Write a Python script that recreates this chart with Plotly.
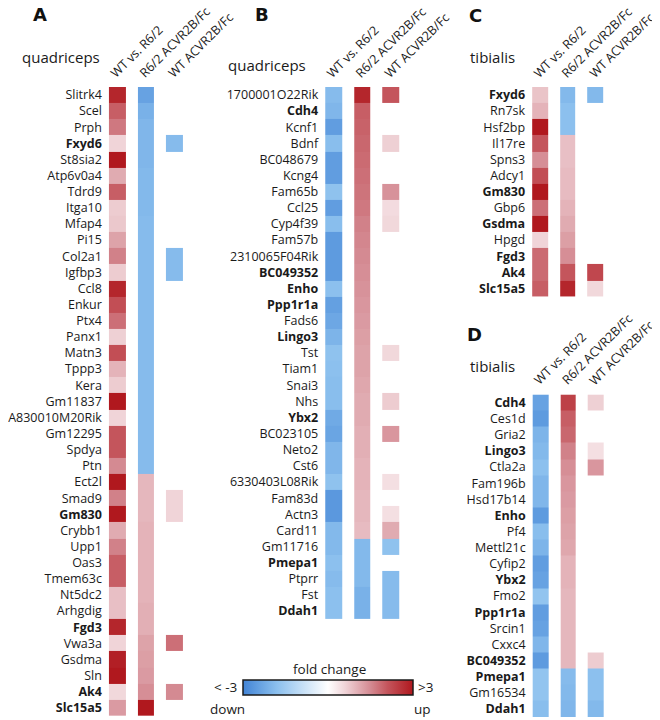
import plotly.graph_objects as go

# the page body has an 8px margin, so the figure is drawn 8px smaller and every
# pixel position below is given in window coordinates
W, H = 660, 720
OFF = 8
FONT = "Open Sans, sans-serif"

headers = ["WT vs. R6/2", "R6/2 ACVR2B/Fc", "WT ACVR2B/Fc"]

# Panel A - quadriceps
a_genes = ["Slitrk4", "Scel", "Prph", "Fxyd6", "St8sia2", "Atp6v0a4", "Tdrd9", "Itga10",
           "Mfap4", "Pi15", "Col2a1", "Igfbp3", "Ccl8", "Enkur", "Ptx4", "Panx1", "Matn3",
           "Tppp3", "Kera", "Gm11837", "A830010M20Rik", "Gm12295", "Spdya", "Ptn", "Ect2l",
           "Smad9", "Gm830", "Crybb1", "Upp1", "Oas3", "Tmem63c", "Nt5dc2", "Arhgdig",
           "Fgd3", "Vwa3a", "Gsdma", "Sln", "Ak4", "Slc15a5"]
a_bold = ["Fxyd6", "Gm830", "Fgd3", "Ak4", "Slc15a5"]
a_wt_r62 = [2.8, 2.0, 1.7, 0.6, 3.0, 1.1, 2.0, 0.7, 0.75, 1.2, 1.6, 0.7, 2.8, 2.2, 1.8,
            0.65, 2.2, 1.0, 0.7, 3.0, 0.6, 2.1, 2.1, 1.5, 3.0, 1.6, 3.0, 1.1, 1.6, 2.0,
            2.0, 0.85, 0.85, 2.8, 0.6, 2.9, 3.0, 0.55, 1.3]
a_r62_acv = [-2.4, -2.1, -2.0, -2.0, -2.0, -1.95, -1.95, -1.95, -1.9, -1.9, -1.9, -1.9,
             -1.9, -1.9, -1.9, -1.9, -1.9, -1.9, -1.9, -1.9, -1.9, -1.9, -1.9, -1.9,
             0.95, 0.95, 0.95, 1.0, 1.0, 1.0, 1.0, 1.0, 1.05, 1.05, 1.2, 1.25, 1.3, 1.45, 3.0]
a_wt_acv = [None, None, None, -1.9, None, None, None, None, None, None, -1.9, -1.9,
            None, None, None, None, None, None, None, None, None, None, None, None,
            None, 0.6, 0.6, None, None, None, None, None, None, None, 1.8, None, None, 1.5, None]

# Panel B - quadriceps
b_genes = ["1700001O22Rik", "Cdh4", "Kcnf1", "Bdnf", "BC048679", "Kcng4", "Fam65b", "Ccl25",
           "Cyp4f39", "Fam57b", "2310065F04Rik", "BC049352", "Enho", "Ppp1r1a", "Fads6",
           "Lingo3", "Tst", "Tiam1", "Snai3", "Nhs", "Ybx2", "BC023105", "Neto2", "Cst6",
           "6330403L08Rik", "Fam83d", "Actn3", "Card11", "Gm11716", "Pmepa1", "Ptprr",
           "Fst", "Ddah1"]
b_bold = ["Cdh4", "BC049352", "Enho", "Ppp1r1a", "Lingo3", "Ybx2", "Pmepa1", "Ddah1"]
b_wt_r62 = [-1.9, -2.0, -2.5, -1.85, -2.5, -2.5, -1.75, -2.5, -1.85, -2.55, -2.55, -2.55,
            -1.8, -2.45, -2.3, -2.05, -1.75, -1.8, -1.85, -1.85, -2.25, -2.35, -2.0, -2.0,
            -1.75, -2.6, -2.6, -1.95, -1.95, -1.8, -1.9, -1.8, -1.8]
b_r62_acv = [2.8, 2.0, 1.95, 1.9, 1.85, 1.8, 1.75, 1.7, 1.6, 1.55, 1.5, 1.45, 1.4, 1.35,
             1.3, 1.25, 1.2, 1.2, 1.15, 1.1, 1.1, 1.05, 1.05, 1.0, 1.0, 0.95, 0.95, 0.9,
             -1.95, -1.95, -1.95, -2.1, -2.1]
b_wt_acv = [2.1, None, None, 0.65, None, None, 1.4, 0.5, 0.55, None, None, None, None,
            None, None, None, 0.55, None, None, 0.7, None, 1.35, None, None, 0.45, None,
            0.45, 1.1, -1.75, None, -1.9, -1.9, -1.9]

# Panel C - tibialis
c_genes = ["Fxyd6", "Rn7sk", "Hsf2bp", "Il17re", "Spns3", "Adcy1", "Gm830", "Gbp6",
           "Gsdma", "Hpgd", "Fgd3", "Ak4", "Slc15a5"]
c_bold = ["Fxyd6", "Gm830", "Gsdma", "Fgd3", "Ak4", "Slc15a5"]
c_wt_r62 = [0.8, 1.0, 3.0, 2.1, 1.45, 2.2, 3.0, 1.8, 3.0, 0.6, 1.85, 1.85, 2.0]
c_r62_acv = [-1.95, -1.8, -1.8, 0.85, 0.85, 0.9, 0.9, 1.0, 1.1, 1.25, 1.45, 2.1, 2.8]
c_wt_acv = [-1.95, None, None, None, None, None, None, None, None, None, None, 2.3, 0.55]

# Panel D - tibialis
d_genes = ["Cdh4", "Ces1d", "Gria2", "Lingo3", "Ctla2a", "Fam196b", "Hsd17b14", "Enho",
           "Pf4", "Mettl21c", "Cyfip2", "Ybx2", "Fmo2", "Ppp1r1a", "Srcin1", "Cxxc4",
           "BC049352", "Pmepa1", "Gm16534", "Ddah1"]
d_bold = ["Cdh4", "Lingo3", "Enho", "Ybx2", "Ppp1r1a", "BC049352", "Pmepa1", "Ddah1"]
d_wt_r62 = [-2.4, -2.55, -2.05, -1.95, -1.8, -2.0, -2.0, -2.55, -1.85, -2.05, -2.5, -2.4,
            -1.7, -2.5, -2.4, -2.0, -2.55, -1.7, -1.7, -1.85]
d_r62_acv = [2.4, 2.0, 1.9, 1.6, 1.45, 1.35, 1.3, 1.25, 1.2, 1.15, 1.0, 1.0, 0.95, 0.95,
             0.95, 0.95, 0.95, -1.9, -1.95, -2.0]
d_wt_acv = [0.65, None, None, 0.45, 1.35, None, None, None, None, None, None, None, None,
            None, None, None, 0.7, -1.8, -1.8, -1.95]

# (genes, columns, bold, letter, letter pos, title pos, x0 px, col step px, y0 px)
panels = [
    (a_genes, [a_wt_r62, a_r62_acv, a_wt_acv], a_bold, "A", (32, 14), (95, 56), 96, 29, 86),
    (b_genes, [b_wt_r62, b_r62_acv, b_wt_acv], b_bold, "B", (257, 13.5), (304, 64), 315, 29, 86),
    (c_genes, [c_wt_r62, c_r62_acv, c_wt_acv], c_bold, "C", (473, 14.5), (515, 56), 524.5, 28, 86),
    (d_genes, [d_wt_r62, d_r62_acv, d_wt_acv], d_bold, "D", (472, 333.5), (515, 366), 525, 28, 394),
]
tissues = ["quadriceps", "quadriceps", "tibialis", "tibialis"]
ROW = 16.15


def fx(p):
    return (p - OFF) / (W - OFF)


def fy(p):
    return 1 - (p - OFF) / (H - OFF)


fig = go.Figure()
annotations = []

for k, (genes, cols, bold, letter, lpos, tpos, x0, step, y0) in enumerate(panels):
    n = len(genes)
    z = [[cols[0][i], cols[1][i], cols[2][i]] for i in range(n)]
    xa = "x" if k == 0 else f"x{k + 1}"
    ya = "y" if k == 0 else f"y{k + 1}"
    fig.add_trace(go.Heatmap(
        z=z, x=[0, 1, 2], y=genes, coloraxis="coloraxis",
        xgap=12, ygap=0, xaxis=xa, yaxis=ya, hoverongaps=False,
    ))
    suffix = "" if k == 0 else str(k + 1)
    fig.layout["xaxis" + suffix] = dict(
        domain=[fx(x0), fx(x0 + 3 * step)], range=[-0.5, 2.5], visible=False,
        anchor=ya, fixedrange=True,
    )
    fig.layout["yaxis" + suffix] = dict(
        domain=[fy(y0 + n * ROW), fy(y0)], type="category", autorange="reversed",
        anchor=xa, tickvals=genes,
        ticktext=[f"<b>{g}</b>" if g in bold else g for g in genes],
        ticks="", showgrid=False, zeroline=False, showline=False,
        tickfont=dict(size=12.5, color="#1a1a1a", family=FONT),
    )
    annotations.append(dict(
        text=f"<b>{letter}</b>", x=fx(lpos[0]), y=fy(lpos[1]), xref="paper", yref="paper",
        xanchor="center", yanchor="middle", showarrow=False,
        font=dict(size=18, color="#111", family="DejaVu Sans, sans-serif"),
    ))
    annotations.append(dict(
        text=tissues[k], x=fx(tpos[0]), y=fy(tpos[1]), xref="paper", yref="paper",
        xanchor="right", yanchor="middle", showarrow=False,
        font=dict(size=15, color="#1a1a1a", family=FONT),
    ))
    for j, h in enumerate(headers):
        annotations.append(dict(
            text=h, x=fx(x0 + j * step + 1), y=fy(y0 - 3), xref="paper", yref="paper",
            xanchor="left", yanchor="bottom", textangle=-45, showarrow=False,
            font=dict(size=12.5, color="#1a1a1a", family=FONT),
        ))

# colour bar labels
for text, x, y, anc in [("fold change", 325, 669, "center"), ("< -3", 234, 687, "right"),
                        (">3", 413, 687, "left"), ("down", 222, 709, "center"),
                        ("up", 420, 709, "center")]:
    annotations.append(dict(
        text=text, x=fx(x), y=fy(y), xref="paper", yref="paper", xanchor=anc,
        yanchor="middle", showarrow=False, font=dict(size=13.5, color="#1a1a1a", family=FONT),
    ))

fig.update_layout(
    width=W - OFF, height=H - OFF, margin=dict(l=0, r=0, t=0, b=0),
    plot_bgcolor="white", paper_bgcolor="white",
    font=dict(family=FONT, size=12.5, color="#1a1a1a"),
    annotations=annotations, showlegend=False,
    coloraxis=dict(
        cmin=-3, cmax=3,
        colorscale=[[0.0, "rgb(66,132,214)"], [0.2, "rgb(140,192,238)"],
                    [0.5, "rgb(255,255,255)"], [0.6, "rgb(240,212,216)"],
                    [0.75, "rgb(212,138,146)"], [0.85, "rgb(196,85,92)"],
                    [1.0, "rgb(176,24,30)"]],
        colorbar=dict(
            orientation="h", x=fx(324), xanchor="center", y=fy(680), yanchor="top",
            len=170, lenmode="pixels", thickness=15, thicknessmode="pixels",
            outlinewidth=1.5, outlinecolor="#1a1a1a", showticklabels=False, ticks="",
            xpad=0, ypad=0,
        ),
    ),
)

fig.write_html("out.html")
